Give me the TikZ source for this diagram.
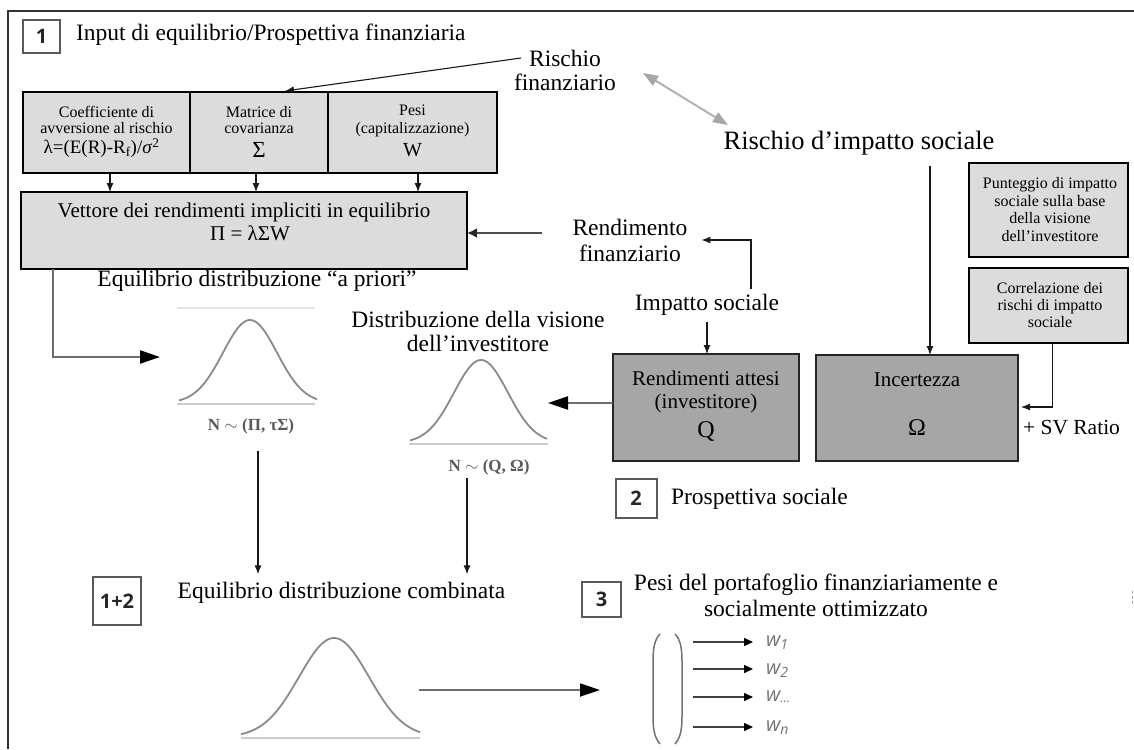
\documentclass[tikz,border=0pt]{standalone}
\usepackage{fontspec}
\setmainfont{Liberation Serif}
\newfontfamily\numfont{Open Sans}
\newfontfamily\labfont{Open Sans}
\usetikzlibrary{arrows.meta,calc}
\definecolor{boxlight}{HTML}{DCDCDC}
\definecolor{boxdark}{HTML}{A6A6A6}
\definecolor{curvegray}{HTML}{8A8A8A}
\definecolor{linegray}{HTML}{6E6E6E}
\newcommand\fs[2]{\fontsize{#1}{#2}\selectfont}

\begin{document}
\begin{tikzpicture}[x=1pt,y=-1pt,
  every node/.style={inner sep=0pt, outer sep=0pt},
  lbox/.style={draw=black, line width=1.3pt, fill=boxlight},
  dbox/.style={draw=black!85, line width=1.3pt, fill=boxdark},
  numbox/.style={draw=black!65, line width=2pt, fill=white,
    font=\numfont\bfseries\fs{20}{20}, text=black!85},
  big/.style={font=\fs{23.5}{24}, align=center},
  mid/.style={font=\fs{21}{23}, align=center},
  small/.style={font=\fs{16}{16.5}, align=center},
  nlab/.style={font=\bfseries\fs{17}{17}, text=black!65},
  wlab/.style={font=\labfont\itshape\fs{20}{20}, text=black!55, anchor=west},
  thinarr/.style={draw=black!90, line width=1.1pt, -{Latex[length=9pt,width=7pt]}},
  heavyarr/.style={draw=linegray, line width=2.3pt, -{Triangle[length=20pt,width=13pt,color=black]}},
  midarr/.style={draw=black!70, line width=2.6pt, -{Latex[length=10pt,width=10pt,color=black!85]}},
  warr/.style={draw=black!75, line width=1.5pt, -{Triangle[length=9pt,width=8pt,color=black]}},
  gauss/.style={draw=curvegray, line width=1.8pt},
  gbase/.style={draw=black!20, line width=1.5pt},
]
\useasboundingbox (0,0) rectangle (1134,749);

% outer frame
\draw[black!80, line width=1.3pt] (8,749) -- (8,11) -- (1134,11);
\draw[black!35, line width=1pt, dash pattern=on 3pt off 2pt] (1132,591) -- (1132,605);

% ---- block 1: financial inputs
\node[numbox, minimum width=37, minimum height=33] (nb1) at (41.5,36.5) {1};
\node[big, anchor=west] (t1) at (76,35) {Input di equilibrio/Prospettiva finanziaria};

\node[lbox, minimum width=167, minimum height=81] (b1) at (106.5,132.5) {};
\node[lbox, minimum width=138, minimum height=81] (b2) at (259,132.5) {};
\node[lbox, minimum width=169, minimum height=81] (b3) at (412.5,132.5) {};
\node[small] (b1t) at (106.5,120) {Coefficiente di\\avversione al rischio};
\node[font=\fs{19}{19}] (b1f) at (101.5,148) {λ=(E(R)-R\textsubscript{f})/\textit{σ}\textsuperscript{2}};
\node[small] (b2t) at (259,120) {Matrice di\\covarianza};
\node[font=\fs{23}{23}] (b2f) at (259,150) {Σ};
\node[small, font=\fs{16}{18}] (b3t) at (412.5,121) {Pesi\\(capitalizzazione)};
\node[font=\fs{20}{20}] (b3f) at (412.5,150) {W};

\node[lbox, minimum width=446, minimum height=77] (vet) at (244,230.5) {};
\node[mid] (vett) at (244,212) {Vettore dei rendimenti impliciti in equilibrio};
\node[mid] (vetf) at (250,233) {Π = λΣW};

\draw[thinarr] ($(b1.south)+(3.5,0)$) -- ($(vet.north -| b1.south)+(3.5,0)$);
\draw[thinarr] ($(b2.south)+(-3,0)$) -- ($(vet.north -| b2.south)+(-3,0)$);
\draw[thinarr] ($(b3.south)+(5.5,0)$) -- ($(vet.north -| b3.south)+(5.5,0)$);

% ---- risks
\node[big] (rf) at (565,70) {Rischio\\finanziario};
\coordinate (rfa) at (521,58);
\draw[thinarr] (rfa) -- ($(b2.north)+(26,-1)$);
\coordinate (da1) at (643,73);
\coordinate (da2) at (728,125);
\draw[draw=black!30, line width=2pt,
  {Triangle[length=15pt,width=11pt,color=black!35]}-{Triangle[length=15pt,width=11pt,color=black!35]}]
  (da1) -- (da2);
\node[font=\fs{26.5}{26.5}] (ris2) at (859,143) {Rischio d’impatto sociale};

% ---- social side boxes
\node[lbox, minimum width=159, minimum height=94] (pun) at (1048.5,210) {};
\node[small, font=\fs{16}{17.7}] (punt) at (1050,209.5)
  {Punteggio di impatto\\sociale sulla base\\della visione\\dell’investitore};
\node[lbox, minimum width=159, minimum height=75] (cor) at (1048.5,305.5) {};
\node[small, font=\fs{16}{17}] (cort) at (1050,305)
  {Correlazione dei\\rischi di impatto\\sociale};

\node[dbox, minimum width=186, minimum height=107] (rend) at (706,407.5) {};
\node[mid] (rendt) at (706,391.5) {Rendimenti attesi\\(investitore)};
\node[font=\fs{24}{24}] (rendq) at (706,431) {Q};
\node[dbox, minimum width=202, minimum height=106] (inc) at (917,408) {};
\node[mid] (inct) at (917,380) {Incertezza};
\node[font=\fs{24}{24}] (inco) at (917,428) {Ω};
\node[font=\fs{21.5}{21.5}] (svr) at (1071.5,428) {+ SV Ratio};

\draw[thinarr] ($(ris2.south -| inc.north)+(13,11)$) -- ($(inc.north)+(13,0)$);
\draw[thinarr] ($(cor.south)+(4,0)$) |- ($(inc.east)+(3,-1)$);

\node[big] (imp) at (707,305) {Impatto sociale};
\node[big, font=\fs{23.5}{26}] (rendfin) at (630,240) {Rendimento\\finanziario};
\draw[thinarr] ($(imp.south)+(0,6)$) -- (imp.south |- rend.north);
\draw[thinarr] ($(imp.north)+(44,-5)$) |- ($(rendfin.east)+(14,0)$);
\draw[midarr] ($(vet.east -| rendfin.west)+(-31,2.5)$) -- ($(vet.east)+(0,2.5)$);

% ---- distributions
\node[big] (prior) at (257,281) {Equilibrio distribuzione “a priori”};
\node[big] (dist) at (478,331) {Distribuzione della visione\\dell’investitore};

\draw[draw=black!10, line width=1.2pt] (177,308) -- (315,308);
\draw[gbase] (177,404) -- (315,404);
\draw[gauss] plot[domain=-71:67, samples=90, smooth]
  ({250+\x},{403-83*exp(-((\x)*(\x))/1458)});
\node[nlab] (n1) at (251,426) {N $\sim$ (Π, τΣ)};
\coordinate (g1in) at (160,357);
\draw[heavyarr] ($(vet.south west)+(32,0)$) |- (g1in);

\draw[gbase] (409,444) -- (548,444);
\draw[gauss] plot[domain=-71:66, samples=90, smooth]
  ({481+\x},{443-83*exp(-((\x)*(\x))/1458)});
\node[nlab] (n2) at (489,467) {N $\sim$ (Q, Ω)};
\coordinate (g2in) at (548,403);
\draw[heavyarr] (rend.west |- g2in) -- (g2in);

\node[numbox, minimum width=41, minimum height=39] (nb2) at (636,498.5) {2};
\node[big, anchor=west] (prosp) at (671,499) {Prospettiva sociale};

% ---- combination
\node[numbox, minimum width=48, minimum height=48] (nb12) at (117,601) {1+2};
\node[big] (comb) at (341.5,593) {Equilibrio distribuzione combinata};
\draw[thinarr] ($(n1.south)+(7,17)$) -- ($(n1.south |- comb.north)+(7,-8)$);
\draw[thinarr] ($(n2.south)+(-22,3)$) -- ($(n2.south |- comb.north)+(-22,-8)$);

\draw[gbase] (241,738) -- (420,738);
\draw[gauss] plot[domain=-93:86, samples=100, smooth]
  ({334+\x},{737-99*exp(-((\x)*(\x))/2450)});
\coordinate (g3out) at (419,690);
\coordinate (mtx) at (600,690);
\draw[heavyarr, line width=1.8pt] (g3out) -- (mtx);

% ---- optimised weights
\node[numbox, minimum width=39, minimum height=35] (nb3) at (601.5,599.5) {3};
\node[big, font=\fs{23.5}{26}] (pesi) at (816,595)
  {Pesi del portafoglio finanziariamente e\\socialmente ottimizzato};

\draw[black!55, line width=1.5pt]
  (660,634) .. controls (654,640) and (653,650) .. (653,662) -- (653,716)
  .. controls (653,728) and (654,737) .. (660,744);
\draw[black!55, line width=1.5pt]
  (675,634) .. controls (681,640) and (682,650) .. (682,662) -- (682,716)
  .. controls (682,728) and (681,737) .. (675,744);

\node[wlab] (w1) at (766,643) {w\textsubscript{1}};
\node[wlab] (w2) at (766,671) {w\textsubscript{2}};
\node[wlab] (w3) at (766,697) {w\raisebox{-1pt}{\fs{13}{13}...}};
\node[wlab] (w4) at (766,728) {w\textsubscript{n}};
\foreach \w/\yy in {w1/642, w2/669, w3/697, w4/727}{
  \coordinate (s-\w) at (693,\yy);
  \draw[warr] (s-\w) -- ($(s-\w -| \w.west)+(-13,0)$);
}
\end{tikzpicture}
\end{document}
